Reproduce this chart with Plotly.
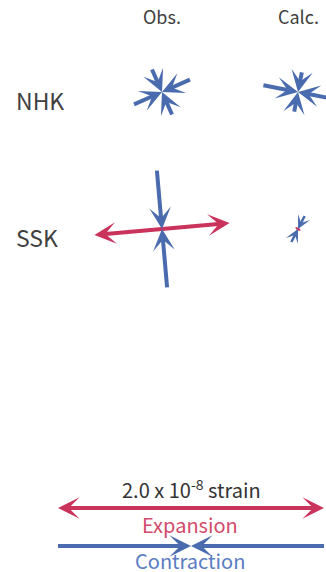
import math
import plotly.graph_objects as go

# principal strains in units of 1e-8 (positive = expansion, negative = contraction)
# AZ1 = azimuth of first principal axis, degrees clockwise from north; second axis is AZ1 + 90
SITES = ["NHK", "SSK"]
COLUMNS = ["Obs.", "Calc."]
OBS_E1 = [-0.46, 1.02]
OBS_E2 = [-0.37, -0.88]
OBS_AZ1 = [66, 85]
CALC_E1 = [-0.53, 0.05]
CALC_E2 = [-0.30, -0.22]
CALC_AZ1 = [101, 117]
SCALE_STRAIN = 2.0
SCALE_LABEL = "2.0 x 10<sup>-8</sup> strain"

W, H = 326, 572
PX_PER_UNIT = 66.5
COL_X = [162, 298]
ROW_Y = [92, 229]
EXP_COLOR = "#C9335C"
CON_COLOR = "#4A6BAE"
FONT = "Noto Sans CJK JP"

fig = go.Figure()
annotations = []


def strain_arrows(cx, cy, strain, az):
    color = EXP_COLOR if strain > 0 else CON_COLOR
    length = abs(strain) * PX_PER_UNIT
    # thinner shafts and heads for very short arrows
    if length >= 18:
        width, size = 4, 0.9
    elif length >= 8:
        width, size = 2.5, 0.9
    else:
        width, size = 1.5, 0.5
    for sign in (1, -1):
        ex = cx + sign * length * math.sin(math.radians(az))
        ey = cy - sign * length * math.cos(math.radians(az))
        if strain > 0:
            hx, hy, tx, ty = ex, ey, cx, cy
        else:
            hx, hy, tx, ty = cx, cy, ex, ey
        # tiny empty text box so the shaft starts right at the tail point
        annotations.append(dict(
            x=hx, y=hy, ax=tx, ay=ty, xref="x", yref="y", axref="x", ayref="y",
            showarrow=True, arrowhead=3, arrowsize=size, arrowwidth=width,
            arrowcolor=color, standoff=0, startstandoff=0, text=" ",
            font=dict(size=1), borderpad=0, borderwidth=0,
        ))


sets = [(OBS_E1, OBS_E2, OBS_AZ1), (CALC_E1, CALC_E2, CALC_AZ1)]
for j, (e1, e2, az1) in enumerate(sets):
    for i in range(len(SITES)):
        strain_arrows(COL_X[j], ROW_Y[i], e1[i], az1[i])
        strain_arrows(COL_X[j], ROW_Y[i], e2[i], az1[i] + 90)

# scale bar
strain_arrows(191, 508, SCALE_STRAIN, 90)
strain_arrows(191, 546, -SCALE_STRAIN, 90)

# labels
for j, name in enumerate(COLUMNS):
    annotations.append(dict(x=COL_X[j], y=16, xref="x", yref="y", text=name,
                            showarrow=False, font=dict(size=18, color="#404040", family=FONT)))
for i, name in enumerate(SITES):
    annotations.append(dict(x=14, y=ROW_Y[i] + 8, xref="x", yref="y", text=name, xanchor="left",
                            showarrow=False, font=dict(size=23, color="#404040", family=FONT)))
annotations.append(dict(x=191, y=489, xref="x", yref="y", text=SCALE_LABEL, showarrow=False,
                        font=dict(size=20, color="#333333", family=FONT)))
annotations.append(dict(x=190, y=524, xref="x", yref="y", text="Expansion", showarrow=False,
                        font=dict(size=20, color="#D24A6C", family=FONT)))
annotations.append(dict(x=190, y=560, xref="x", yref="y", text="Contraction", showarrow=False,
                        font=dict(size=20, color="#5A7CC2", family=FONT)))

fig.update_layout(
    width=W, height=H,
    margin=dict(l=0, r=0, t=0, b=0),
    paper_bgcolor="white", plot_bgcolor="white",
    xaxis=dict(range=[0, W], visible=False, fixedrange=True),
    yaxis=dict(range=[H, 0], visible=False, fixedrange=True),
    annotations=annotations,
    showlegend=False,
)
fig.write_html(
    "out.html",
    config={"displayModeBar": False},
    post_script="document.body.style.margin='0';document.body.style.overflow='hidden';",
)
